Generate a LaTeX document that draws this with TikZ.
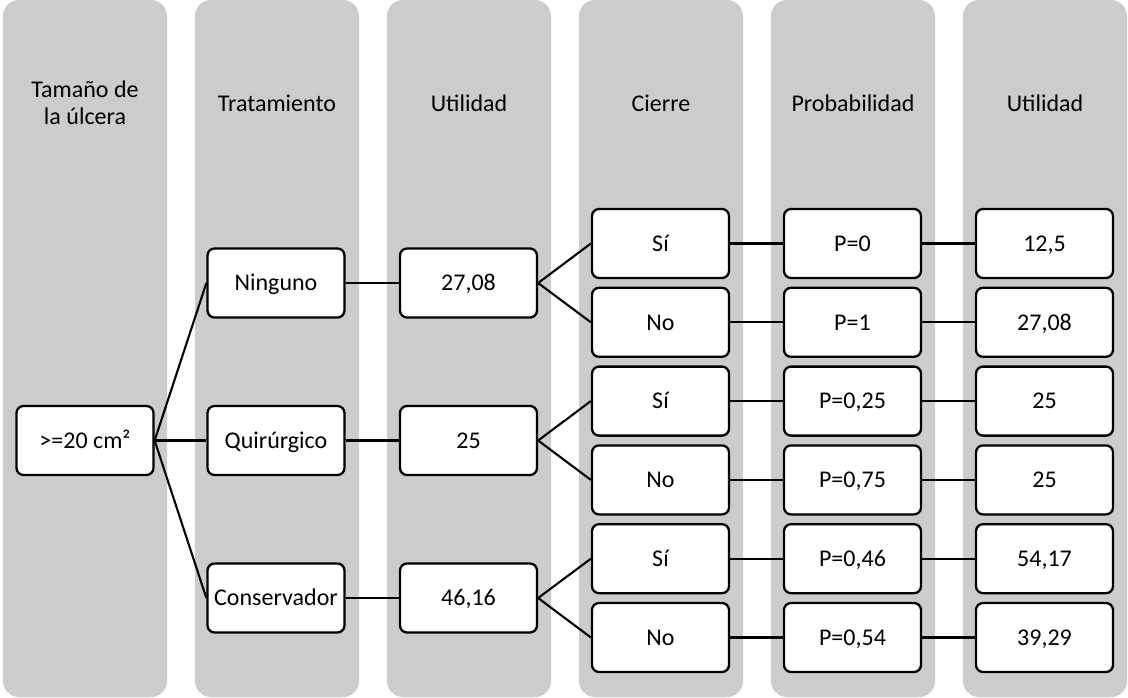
\documentclass[tikz,border=0pt]{standalone}
\usepackage{fontspec}
\setmainfont{Carlito}
\definecolor{lanegray}{RGB}{204,204,204}
\begin{document}
\begin{tikzpicture}[x=1pt,y=-1pt,
  lane/.style={fill=lanegray, draw=none, rounded corners=16pt},
  box/.style={draw=black, fill=white, line width=2.3pt, rounded corners=7pt,
    minimum width=137pt, minimum height=69pt, inner sep=0pt,
    text height=15.5pt, text depth=0pt,
    font=\fontsize{24}{27}\selectfont},
  head/.style={align=center, inner sep=0pt, font=\fontsize{24}{27}\selectfont},
  link/.style={line width=2.1pt}]
\useasboundingbox (0,0) rectangle (1128,697);

% background lanes
\foreach \xl in {3,195,387,579,771,963}
  \fill[lane] (\xl,0) rectangle ++(164,697);

% lane headings
\node[head] (h1) at (85,103) {Tamaño de\\la úlcera};
\node[head] (h2) at (277,103) {Tratamiento};
\node[head] (h3) at (469,103) {Utilidad};
\node[head] (h4) at (661,103) {Cierre};
\node[head] (h5) at (853,103) {Probabilidad};
\node[head] (h6) at (1045,103) {Utilidad};

% root
\node[box] (root) at (85,440.5) {>=20 cm²};

% treatments
\node[box] (t1) at (276,283) {Ninguno};
\node[box] (t2) at (276,440.5) {Quirúrgico};
\node[box] (t3) at (276,598) {Conservador};

% expected utility per treatment
\node[box] (u1) at (468.5,283) {27,08};
\node[box] (u2) at (468.5,440.5) {25};
\node[box] (u3) at (468.5,598) {46,16};

% closure outcomes
\node[box] (c1) at (660.5,243.5) {Sí};
\node[box] (c2) at (660.5,322.3) {No};
\node[box] (c3) at (660.5,401.1) {Sí};
\node[box] (c4) at (660.5,479.9) {No};
\node[box] (c5) at (660.5,558.7) {Sí};
\node[box] (c6) at (660.5,637.5) {No};

% probabilities
\node[box] (p1) at (852.5,243.5) {P=0};
\node[box] (p2) at (852.5,322.3) {P=1};
\node[box] (p3) at (852.5,401.1) {P=0,25};
\node[box] (p4) at (852.5,479.9) {P=0,75};
\node[box] (p5) at (852.5,558.7) {P=0,46};
\node[box] (p6) at (852.5,637.5) {P=0,54};

% outcome utilities
\node[box] (v1) at (1044.5,243.5) {12,5};
\node[box] (v2) at (1044.5,322.3) {27,08};
\node[box] (v3) at (1044.5,401.1) {25};
\node[box] (v4) at (1044.5,479.9) {25};
\node[box] (v5) at (1044.5,558.7) {54,17};
\node[box] (v6) at (1044.5,637.5) {39,29};

% connectors
\foreach \t in {t1,t2,t3}
  \draw[link] (root.east) -- (\t.west);
\draw[link] (t1.east) -- (u1.west);
\draw[link] (t2.east) -- (u2.west);
\draw[link] (t3.east) -- (u3.west);
\draw[link] (u1.east) -- (c1.west);
\draw[link] (u1.east) -- (c2.west);
\draw[link] (u2.east) -- (c3.west);
\draw[link] (u2.east) -- (c4.west);
\draw[link] (u3.east) -- (c5.west);
\draw[link] (u3.east) -- (c6.west);
\foreach \i in {1,...,6} {
  \draw[link] (c\i.east) -- (p\i.west);
  \draw[link] (p\i.east) -- (v\i.west);
}
\end{tikzpicture}
\end{document}
